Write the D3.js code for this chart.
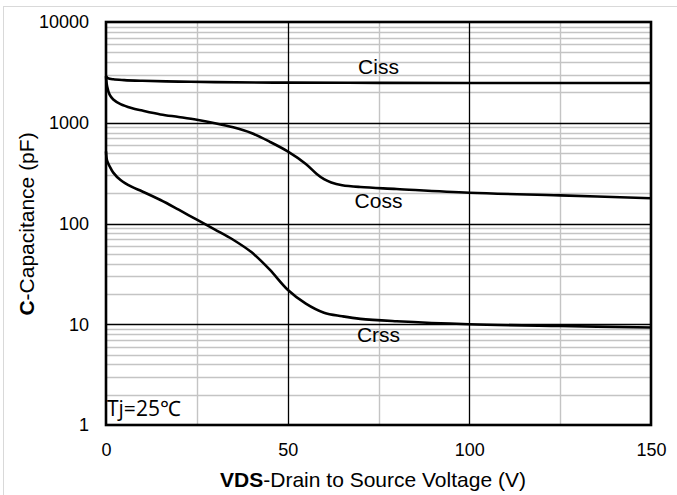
<!DOCTYPE html>
<html>
<head>
<meta charset="utf-8">
<script src="https://cdn.jsdelivr.net/npm/d3@7"></script>
<style>
  html, body { margin: 0; padding: 0; background: #fff; }
  svg { display: block; }
  text { font-family: "Liberation Sans", Arial, sans-serif; fill: #000; }
</style>
</head>
<body>
<svg id="chart" width="677" height="495"></svg>
<script>
// ---- data ----
const xTicks = [0, 50, 100, 150];
const yTicks = [1, 10, 100, 1000, 10000];
const xMinorGrid = [25, 75, 125];

const cissV   = [0, 0.5, 2, 5, 10, 20, 30, 50, 75, 100, 125, 150];
const cissC   = [2900, 2780, 2700, 2650, 2610, 2560, 2530, 2500, 2490, 2480, 2480, 2480];

const cossV   = [0, 0.3, 1, 2, 4, 7, 10, 15, 20, 25, 30, 35, 40, 45, 50, 55, 58, 60, 62, 65, 70, 80, 100, 125, 150];
const cossC   = [2900, 2300, 1900, 1700, 1530, 1400, 1320, 1210, 1140, 1070, 990, 900, 790, 650, 520, 390, 310, 275, 255, 240, 230, 220, 202, 190, 178];

const crssV   = [0, 0.3, 1, 2, 4, 7, 10, 15, 20, 25, 30, 35, 40, 45, 50, 55, 60, 65, 70, 80, 100, 125, 150];
const crssC   = [520, 420, 370, 320, 270, 232, 208, 171, 137, 109, 87, 69, 52, 35, 22, 16, 13, 12, 11.3, 10.7, 10, 9.6, 9.3];

const seriesLabels = [
  {name: "Ciss", v: 75, c: 3050},
  {name: "Coss", v: 75, c: 142},
  {name: "Crss", v: 75, c: 6.7}
];

// ---- layout ----
const svg = d3.select("#chart");
const L = 106, R = 651, T = 22, B = 425;
const FONT = "'Liberation Sans', Arial, sans-serif";

const x = d3.scaleLinear().domain([0, 150]).range([L, R]);
const y = d3.scaleLog().domain([1, 10000]).range([B, T]);

// outer light frame
svg.append("rect").attr("x", 3.5).attr("y", 6.5).attr("width", 690).attr("height", 500)
  .attr("fill", "none").attr("stroke", "#d9d9d9").attr("stroke-width", 1);

// minor horizontal grid
const minorY = [];
for (let d = 1; d < 10000; d *= 10) for (let k = 2; k <= 9; k++) minorY.push(d * k);
svg.append("g").selectAll("line").data(minorY).join("line")
  .attr("x1", L).attr("x2", R)
  .attr("y1", d => Math.round(y(d)) + 0.5).attr("y2", d => Math.round(y(d)) + 0.5)
  .attr("stroke", "#c4c4c4").attr("stroke-width", 1.4);

// minor vertical grid
svg.append("g").selectAll("line").data(xMinorGrid).join("line")
  .attr("x1", d => Math.round(x(d)) + 0.5).attr("x2", d => Math.round(x(d)) + 0.5)
  .attr("y1", T).attr("y2", B)
  .attr("stroke", "#c4c4c4").attr("stroke-width", 1.4);

// major grid
svg.append("g").selectAll("line").data(yTicks.slice(1, -1)).join("line")
  .attr("x1", L).attr("x2", R)
  .attr("y1", d => Math.round(y(d)) + 0.5).attr("y2", d => Math.round(y(d)) + 0.5)
  .attr("stroke", "#000").attr("stroke-width", 1.3);
svg.append("g").selectAll("line").data(xTicks.slice(1, -1)).join("line")
  .attr("x1", d => Math.round(x(d)) + 0.5).attr("x2", d => Math.round(x(d)) + 0.5)
  .attr("y1", T).attr("y2", B)
  .attr("stroke", "#000").attr("stroke-width", 1.3);

// axes (labels only)
const xAxis = d3.axisBottom(x).tickValues(xTicks).tickSize(0).tickPadding(18).tickFormat(d3.format("d"));
const gx = svg.append("g").attr("transform", `translate(0,${B})`).call(xAxis);
gx.select(".domain").remove();
gx.selectAll("text").style("font-size", "18px").style("font-family", FONT);

const yAxis = d3.axisLeft(y).tickValues(yTicks).tickSize(0).tickPadding(17).tickFormat(d3.format("d"));
const gy = svg.append("g").attr("transform", `translate(${L},0)`).call(yAxis);
gy.select(".domain").remove();
gy.selectAll("text").style("font-size", "18px").style("font-family", FONT);

// curves
const line = d3.line().x(d => x(d[0])).y(d => y(d[1])).curve(d3.curveCatmullRom.alpha(0.5));
const series = [
  d3.zip(cissV, cissC),
  d3.zip(cossV, cossC),
  d3.zip(crssV, crssC)
];
svg.append("g").selectAll("path").data(series).join("path")
  .attr("d", line).attr("fill", "none").attr("stroke", "#000").attr("stroke-width", 2.6)
  .attr("stroke-linejoin", "round");

// plot border
svg.append("rect").attr("x", L).attr("y", T).attr("width", R - L).attr("height", B - T)
  .attr("fill", "none").attr("stroke", "#000").attr("stroke-width", 2.6);

// series labels
svg.append("g").selectAll("text").data(seriesLabels).join("text")
  .attr("x", d => x(d.v)).attr("y", d => y(d.c))
  .attr("text-anchor", "middle").style("font-size", "21px")
  .text(d => d.name);

// Tj label
svg.append("text").attr("x", 107).attr("y", 416)
  .style("font-family", "'Open Sans', 'Noto Sans', sans-serif").style("font-size", "21px")
  .text("Tj=25℃");

// axis titles
const xt = svg.append("text").attr("x", 373).attr("y", 487).attr("text-anchor", "middle")
  .style("font-size", "21px");
xt.append("tspan").style("font-weight", "bold").text("VDS");
xt.append("tspan").text("-Drain to Source Voltage (V)");

const yt = svg.append("text").attr("transform", "translate(34,224) rotate(-90)")
  .attr("text-anchor", "middle").style("font-size", "21px");
yt.append("tspan").style("font-weight", "bold").text("C");
yt.append("tspan").text("-Capacitance (pF)");
</script>
</body>
</html>
